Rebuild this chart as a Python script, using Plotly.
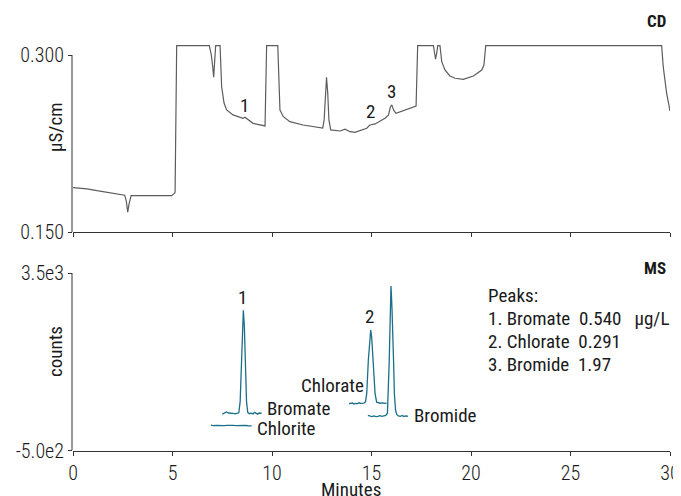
import plotly.graph_objects as go

# ---------------- data ----------------
cd_time = [0.00, 0.40, 0.50, 0.70, 1.20, 1.86, 2.51, 2.60, 2.68, 2.75, 2.82, 2.92, 3.50, 4.20,
           4.96, 5.13, 5.21, 6.85, 6.95, 7.02, 7.07, 7.12, 7.17, 7.39, 7.47, 7.59, 7.72, 8.04,
           8.54, 8.64, 8.74, 9.05, 9.65, 9.73, 10.29, 10.40, 10.57, 10.90, 11.56, 12.41, 12.55,
           12.62, 12.68, 12.74, 12.80, 12.86, 12.95, 13.42, 13.67, 13.92, 14.17, 14.42, 14.76,
           14.92, 15.18, 15.68, 15.85, 15.95, 16.02, 16.12, 16.23, 17.24, 17.32, 18.11, 18.18,
           18.22, 18.28, 18.33, 18.44, 18.53, 18.69, 18.94, 19.20, 19.61, 20.12, 20.54, 20.65,
           20.74, 29.58, 29.66, 29.83, 30.00]
cd_value = [0.1876, 0.1870, 0.1874, 0.1866, 0.1850, 0.1831, 0.1814, 0.1812, 0.1760, 0.1668,
            0.1740, 0.1808, 0.1808, 0.1809, 0.1808, 0.1834, 0.308, 0.308, 0.300, 0.290, 0.2811,
            0.295, 0.308, 0.308, 0.2731, 0.2593, 0.2534, 0.2492, 0.2464, 0.2472, 0.2458, 0.2421,
            0.2399, 0.308, 0.308, 0.2534, 0.2477, 0.2435, 0.2407, 0.2384, 0.2380, 0.2450, 0.2700,
            0.2811, 0.2680, 0.2450, 0.2365, 0.2356, 0.2371, 0.2350, 0.2345, 0.2359, 0.2379,
            0.2407, 0.2416, 0.2464, 0.2490, 0.2560, 0.2577, 0.2530, 0.2506, 0.2568, 0.308, 0.308,
            0.300, 0.2964, 0.302, 0.308, 0.308, 0.2943, 0.2873, 0.2822, 0.2803, 0.2794, 0.2822,
            0.2873, 0.2915, 0.308, 0.308, 0.2901, 0.2676, 0.2526]

chlorite_time = [6.93, 7.05, 7.20, 7.35, 7.50, 7.60, 7.75, 7.90, 8.05, 8.20, 8.35, 8.50, 8.65, 8.80, 8.98]
chlorite_counts = [70, 60, 68, 62, 72, 60, 65, 58, 66, 62, 68, 60, 64, 58, 55]

bromate_time = [7.50, 7.62, 7.72, 7.82, 7.95, 8.05, 8.15, 8.25, 8.33, 8.40, 8.46, 8.51, 8.56,
                8.61, 8.66, 8.72, 8.78, 8.86, 8.95, 9.05, 9.12, 9.20, 9.28, 9.36, 9.43, 9.48]
bromate_counts = [320, 340, 370, 345, 330, 335, 325, 335, 350, 600, 1400, 2300, 2660,
                  2300, 1400, 600, 360, 330, 340, 325, 360, 330, 320, 345, 330, 335]

chlorate_time = [13.87, 13.95, 14.05, 14.12, 14.20, 14.30, 14.38, 14.45, 14.55, 14.62, 14.70,
                 14.76, 14.84, 14.92, 14.96, 15.01, 15.09, 15.18, 15.26, 15.35, 15.45, 15.55,
                 15.65, 15.76]
chlorate_counts = [555, 565, 570, 548, 560, 555, 575, 560, 555, 565, 600, 780, 1530, 2140,
                   2212, 2050, 1310, 780, 590, 575, 565, 572, 560, 568]

bromide_time = [14.82, 14.92, 15.02, 15.12, 15.22, 15.32, 15.42, 15.52, 15.62, 15.72, 15.80,
                15.84, 15.89, 15.93, 15.98, 16.03, 16.07, 16.11, 16.15, 16.21, 16.27, 16.35,
                16.45, 16.55, 16.62, 16.70, 16.83]
bromide_counts = [290, 275, 265, 280, 262, 270, 285, 268, 275, 290, 340, 780, 1500, 2290,
                  3206, 2700, 2290, 1500, 780, 400, 313, 280, 270, 290, 265, 278, 272]

x_ticks = [0, 5, 10, 15, 20, 25, 30]
cd_ticks = [0.150, 0.300]
cd_tick_text = ["0.150", "0.300"]
ms_ticks = [-500, 3500]
ms_tick_text = ["-5.0e2", "3.5e3"]

peak_lines = ["Peaks:",
              "1. Bromate\u00a0\u00a00.540\u00a0\u00a0\u00a0µg/L",
              "2. Chlorate\u00a0\u00a00.291",
              "3. Bromide\u00a0\u00a01.97"]

# ---------------- layout helpers (reference pixel coordinates) ----------------
W_REF, H_REF = 681, 496
OFF = 8                      # page body margin of the browser
W, H = W_REF - OFF, H_REF - OFF
L, R = 73, 670               # plot area left / right in reference pixels


def px_x(p):
    return (p - L) / (R - L)


def px_y(p):
    return 1 - (p - OFF) / H


FONT = "Liberation Sans Narrow, Arial Narrow, Roboto Condensed, Roboto, sans-serif"
TXT = "#1a1a1a"
AX = "#333333"
CD_COL = "#5c5c5c"
MS_COL = "#1a6f89"
FS = 19
TFS = 20
WT = 400

tickfont = dict(family=FONT, size=TFS, color=TXT, weight=300)

fig = go.Figure()
fig.add_trace(go.Scatter(x=cd_time, y=cd_value, mode="lines", xaxis="x2", yaxis="y2",
                         line=dict(color=CD_COL, width=1.2), showlegend=False))
for t, c in [(chlorite_time, chlorite_counts), (bromate_time, bromate_counts),
             (chlorate_time, chlorate_counts), (bromide_time, bromide_counts)]:
    fig.add_trace(go.Scatter(x=t, y=c, mode="lines", xaxis="x", yaxis="y",
                             line=dict(color=MS_COL, width=1.3), showlegend=False))

xcommon = dict(range=[0, 30], tickvals=x_ticks, ticks="outside", ticklen=4, tickcolor=AX,
               showline=True, linecolor=AX, linewidth=1, showgrid=False, zeroline=False,
               automargin=False, tickfont=tickfont)

fig.update_layout(
    template="none",
    width=W, height=H, autosize=False,
    margin=dict(l=L - OFF, r=W_REF - R, t=0, b=0, pad=0),
    paper_bgcolor="white", plot_bgcolor="white",
    font=dict(family=FONT, size=FS, color=TXT, weight=WT),
    xaxis=dict(domain=[0, 1], anchor="y", **xcommon),
    xaxis2=dict(domain=[0, 1], anchor="y2", showticklabels=False, matches="x", **xcommon),
    yaxis=dict(domain=[px_y(450.5), px_y(273)], range=[-500, 3500], anchor="x",
               tickvals=ms_ticks, ticktext=ms_tick_text, ticks="outside", ticklen=4,
               tickcolor=AX, showline=False, showgrid=False, zeroline=False, automargin=False,
               tickfont=tickfont),
    yaxis2=dict(domain=[px_y(232), px_y(43.2)], range=[0.150, 0.310], anchor="x2",
                tickvals=cd_ticks, ticktext=cd_tick_text, ticks="outside", ticklen=4,
                tickcolor=AX, showline=False, showgrid=False, zeroline=False, automargin=False,
                tickfont=tickfont),
)

# y-axis lines (top one spans only the labelled range)
fig.add_shape(type="line", xref="paper", yref="y2", x0=px_x(72), x1=px_x(72),
              y0=0.150, y1=0.300, line=dict(color=AX, width=1))
fig.add_shape(type="line", xref="paper", yref="y", x0=px_x(72), x1=px_x(72),
              y0=-500, y1=3500, line=dict(color=AX, width=1))

ann = []


def add(text, x, y, xref, yref, xanchor="center", yanchor="middle", size=FS, bold=False, angle=0):
    ann.append(dict(text=text, x=x, y=y, xref=xref, yref=yref,
                    xanchor=xanchor, yanchor=yanchor, showarrow=False, textangle=angle,
                    font=dict(family=FONT, size=size, color=TXT, weight=700 if bold else WT)))


# panel names
add("CD", px_x(668), px_y(21), "paper", "paper", xanchor="right", size=17, bold=True)
add("MS", px_x(668), px_y(268), "paper", "paper", xanchor="right", size=17, bold=True)
# axis titles
add("µS/cm", px_x(55), px_y(128), "paper", "paper", angle=-90)
add("counts", px_x(55), px_y(352), "paper", "paper", angle=-90)
add("Minutes", px_x(351), px_y(489), "paper", "paper")
# CD peak numbers
add("1", 8.64, 0.2568, "x2", "y2")
add("2", 14.97, 0.2517, "x2", "y2")
add("3", 15.98, 0.2687, "x2", "y2")
# MS peak numbers
add("1", 8.54, 2958, "x", "y")
add("2", 14.92, 2528, "x", "y")
add("3", 15.93, 3545, "x", "y")
# trace names
add("Bromate", 9.65, 449, "x", "y", xanchor="left")
add("Chlorite", 9.15, -3, "x", "y", xanchor="left")
add("Chlorate", 14.72, 969, "x", "y", xanchor="right")
add("Bromide", 17.04, 291, "x", "y", xanchor="left")
# peaks table
for i, line in enumerate(peak_lines):
    add(line, px_x(486), px_y(295 + 23 * i), "paper", "paper", xanchor="left")

fig.update_layout(annotations=ann)
fig.write_html("out.html")
